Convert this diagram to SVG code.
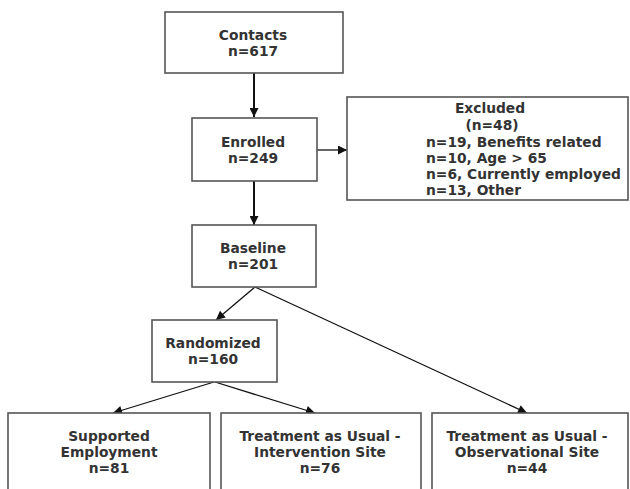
<svg xmlns="http://www.w3.org/2000/svg" width="630" height="489" viewBox="0 0 630 489">
<defs>
<style>
.box{fill:#fff;stroke:#555;stroke-width:1.6}
.t{font-family:"DejaVu Sans",Verdana,sans-serif;font-weight:bold;font-size:13.8px;fill:#333;text-anchor:middle}
.l{text-anchor:start}
.c{stroke:#111;fill:none}
.thick{stroke-width:2}
.thin{stroke-width:1.3}
</style>
<marker id="ah" viewBox="0 0 10 10" refX="10" refY="5" markerWidth="11" markerHeight="9" markerUnits="userSpaceOnUse" orient="auto">
<path d="M0,0 L10,5 L0,10 z" fill="#111"/>
</marker>
</defs>
<rect width="630" height="489" fill="#fff"/>
<g id="connectors">
<line class="c thick" x1="254" y1="73" x2="254" y2="117" marker-end="url(#ah)"/>
<line class="c thick" x1="254" y1="181" x2="254" y2="225" marker-end="url(#ah)"/>
<line class="c thin" x1="317" y1="150" x2="347" y2="150" marker-end="url(#ah)"/>
<line class="c thin" x1="255" y1="287" x2="216" y2="320" marker-end="url(#ah)"/>
<line class="c thin" x1="255" y1="287" x2="527" y2="413" marker-end="url(#ah)"/>
<line class="c thin" x1="214" y1="382" x2="113" y2="413" marker-end="url(#ah)"/>
<line class="c thin" x1="215" y1="382" x2="315" y2="413" marker-end="url(#ah)"/>
</g>
<g id="contacts">
<rect class="box" x="165" y="12" width="178" height="61"/>
<text class="t" x="253" y="40">Contacts</text>
<text class="t" x="253" y="56">n=617</text>
</g>
<g id="enrolled">
<rect class="box" x="192" y="118" width="125" height="63"/>
<text class="t" x="253" y="147">Enrolled</text>
<text class="t" x="253" y="163">n=249</text>
</g>
<g id="excluded">
<rect class="box" x="347" y="97" width="281" height="103"/>
<text class="t" x="490" y="113">Excluded</text>
<text class="t" x="492" y="130">(n=48)</text>
<text class="t l" x="426" y="147">n=19, Benefits related</text>
<text class="t l" x="426" y="163">n=10, Age &gt; 65</text>
<text class="t l" x="426" y="179">n=6, Currently employed</text>
<text class="t l" x="426" y="195">n=13, Other</text>
</g>
<g id="baseline">
<rect class="box" x="192" y="225" width="124" height="62"/>
<text class="t" x="253" y="253">Baseline</text>
<text class="t" x="253" y="269">n=201</text>
</g>
<g id="randomized">
<rect class="box" x="152" y="320" width="125" height="62"/>
<text class="t" x="213" y="348">Randomized</text>
<text class="t" x="213" y="364">n=160</text>
</g>
<g id="supported">
<rect class="box" x="8" y="413" width="202" height="90"/>
<text class="t" x="109" y="441">Supported</text>
<text class="t" x="109" y="457">Employment</text>
<text class="t" x="109" y="473">n=81</text>
</g>
<g id="tau-intervention">
<rect class="box" x="221" y="413" width="200" height="90"/>
<text class="t" x="320" y="441">Treatment as Usual -</text>
<text class="t" x="320" y="457">Intervention Site</text>
<text class="t" x="320" y="473">n=76</text>
</g>
<g id="tau-observational">
<rect class="box" x="432" y="413" width="196" height="90"/>
<text class="t" x="527" y="441">Treatment as Usual -</text>
<text class="t" x="527" y="457">Observational Site</text>
<text class="t" x="527" y="473">n=44</text>
</g>
</svg>
